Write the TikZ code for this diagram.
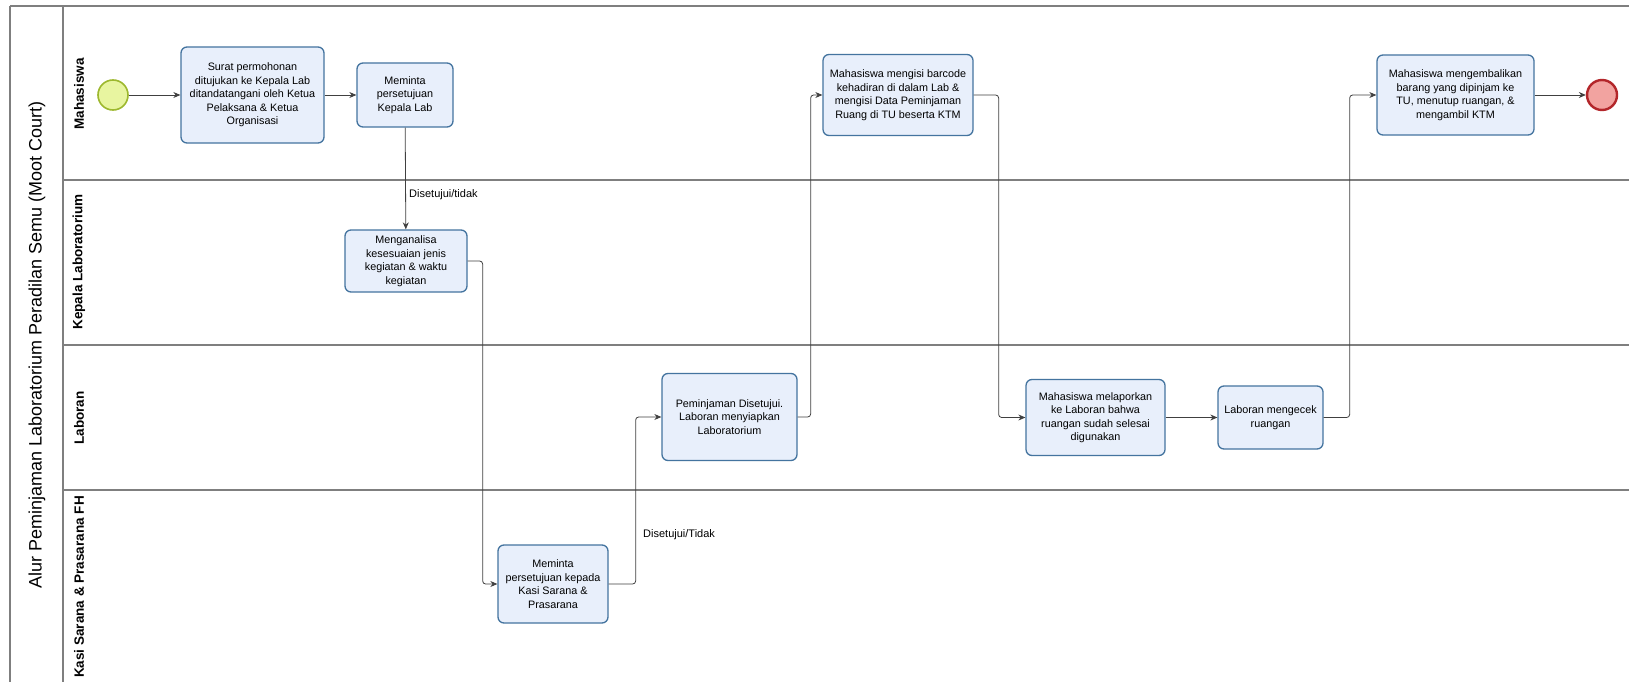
\documentclass[tikz,border=0pt]{standalone}
\usepackage{fontspec}
\setmainfont{Liberation Sans}
\usetikzlibrary{arrows.meta}
\definecolor{framegray}{HTML}{7F7F7F}
\definecolor{boxfill}{HTML}{E8EFFB}
\definecolor{boxdraw}{HTML}{44749F}
\definecolor{startfill}{HTML}{E8F5A0}
\definecolor{startdraw}{HTML}{9DB82E}
\definecolor{endfill}{HTML}{F2A3A0}
\definecolor{enddraw}{HTML}{B3262A}
\definecolor{linecol}{HTML}{404040}
\tikzset{
  task/.style={draw=boxdraw, line width=1.3pt, fill=boxfill, rounded corners=6pt,
    align=center, font=\fontsize{10.8}{13.5}\selectfont, inner sep=2pt},
  startev/.style={circle, draw=startdraw, line width=1.6pt, fill=startfill, minimum size=30pt, inner sep=0pt},
  endev/.style={circle, draw=enddraw, line width=2.4pt, fill=endfill, minimum size=30pt, inner sep=0pt},
  flow/.style={draw=linecol, line width=0.8pt, rounded corners=3pt, -{Stealth[length=7pt,width=6pt]}},
  lanelabel/.style={rotate=90, font=\bfseries\fontsize{13.5}{15}\selectfont},
  flowlabel/.style={font=\fontsize{11}{13}\selectfont, anchor=west, inner sep=1pt}
}
\begin{document}
\begin{tikzpicture}[x=1pt,y=-1pt]
\useasboundingbox (0,0) rectangle (1629,682);
\fill[white] (0,0) rectangle (1629,682);
% frame
\draw[framegray, line width=2pt] (10,6) -- (1645,6);
\draw[framegray, line width=2pt] (10,6) -- (10,700);
\draw[framegray, line width=2.5pt] (63,6) -- (63,700);
\draw[framegray, line width=1.5pt] (63,180) -- (1645,180);
\draw[framegray, line width=1.5pt] (63,345) -- (1645,345);
\draw[framegray, line width=1.5pt] (63,490) -- (1645,490);
% title and lane labels
\node[rotate=90, font=\fontsize{18}{20}\selectfont] (title) at (37,345) {Alur Peminjaman Laboratorium Peradilan Semu (Moot Court)};
\node[lanelabel] (l1) at (79,94) {Mahasiswa};
\node[lanelabel] (l2) at (79,262) {Kepala Laboratorium};
\node[lanelabel] (l3) at (79,418) {Laboran};
\node[lanelabel] (l4) at (79,587) {Kasi Sarana \& Prasarana FH};
% events
\node[startev] (start) at (113,95) {};
\node[endev] (end) at (1602,95) {};
% tasks
\node[task, minimum width=143pt, minimum height=96pt] (b1) at (252.5,95) {Surat permohonan\\ditujukan ke Kepala Lab\\ditandatangani oleh Ketua\\Pelaksana \& Ketua\\Organisasi};
\node[task, minimum width=96pt, minimum height=64pt] (b2) at (405,95) {Meminta\\persetujuan\\Kepala Lab};
\node[task, minimum width=122pt, minimum height=62pt] (b3) at (406,261) {Menganalisa\\kesesuaian jenis\\kegiatan \& waktu\\kegiatan};
\node[task, minimum width=110pt, minimum height=78pt] (b4) at (553,584) {Meminta\\persetujuan kepada\\Kasi Sarana \&\\Prasarana};
\node[task, minimum width=135pt, minimum height=87pt] (b5) at (729.5,417) {Peminjaman Disetujui.\\Laboran menyiapkan\\Laboratorium};
\node[task, minimum width=150pt, minimum height=81pt] (b6) at (898,95) {Mahasiswa mengisi barcode\\kehadiran di dalam Lab \&\\mengisi Data Peminjaman\\Ruang di TU beserta KTM};
\node[task, minimum width=139pt, minimum height=76pt] (b7) at (1095.5,417.5) {Mahasiswa melaporkan\\ke Laboran bahwa\\ruangan sudah selesai\\digunakan};
\node[task, minimum width=105pt, minimum height=63pt] (b8) at (1270.5,417.5) {Laboran mengecek\\ruangan};
\node[task, minimum width=157pt, minimum height=80pt] (b9) at (1455.5,95) {Mahasiswa mengembalikan\\barang yang dipinjam ke\\TU, menutup ruangan, \&\\mengambil KTM};
% flows
\draw[flow] (start) -- (b1);
\draw[flow] (b1) -- (b2);
\draw[flow] (b2) -- (b3);
\draw[flow] (b3.east) -- ++(15,0) |- (b4.west);
\draw[flow] (b4.east) -- ++(27,0) |- (b5.west);
\draw[flow] (b5.east) -- ++(13,0) |- (b6.west);
\draw[flow] (b6.east) -- ++(25,0) |- (b7.west);
\draw[flow] (b7) -- (b8);
\draw[flow] (b8.east) -- ++(26,0) |- (b9.west);
\draw[flow] (b9) -- (end);
% flow labels
\node[flowlabel] (f1) at (408,195) {Disetujui/tidak};
\node[flowlabel] (f2) at (642,535) {Disetujui/Tidak};
\end{tikzpicture}
\end{document}
